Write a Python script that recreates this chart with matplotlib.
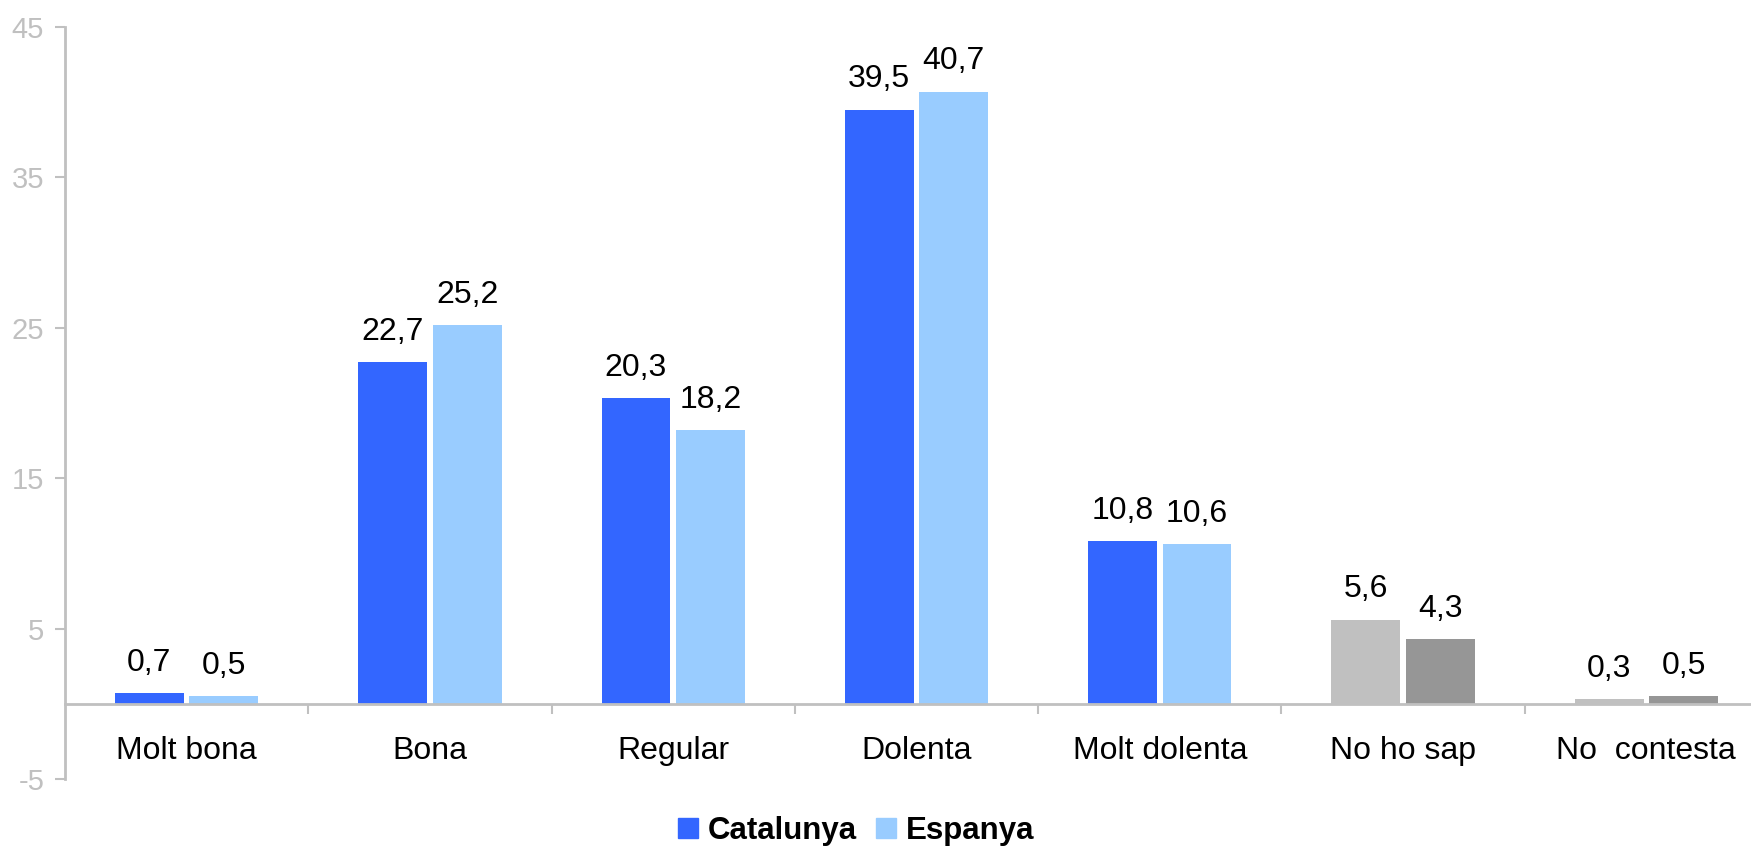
import numpy as np
import matplotlib.pyplot as plt
from matplotlib.patches import Patch

# Data
categories = ["Molt bona", "Bona", "Regular", "Dolenta", "Molt dolenta", "No ho sap", "No  contesta"]
catalunya = [0.7, 22.7, 20.3, 39.5, 10.8, 5.6, 0.3]
espanya = [0.5, 25.2, 18.2, 40.7, 10.6, 4.3, 0.5]
series_names = ["Catalunya", "Espanya"]
y_ticks = [-5, 5, 15, 25, 35, 45]

blue_dark = "#3366FF"
blue_light = "#99CCFF"
grey_light = "#C0C0C0"
grey_dark = "#969696"
axis_color = "#C0C0C0"

plt.rcParams["font.family"] = ["Liberation Sans", "DejaVu Sans"]
plt.rcParams["axes.unicode_minus"] = False

fig = plt.figure(figsize=(17.51, 8.5), dpi=100)
ax = fig.add_axes([65 / 1751, 1 - 779 / 850, (1768 - 65) / 1751, (779 - 27) / 850])

x = np.arange(len(categories))
width = 0.283
offset = 0.153

# last two categories are drawn in grey
c1 = [blue_dark] * 5 + [grey_light] * 2
c2 = [blue_light] * 5 + [grey_dark] * 2

b1 = ax.bar(x - offset, catalunya, width, color=c1)
b2 = ax.bar(x + offset, espanya, width, color=c2)

def fmt(v):
    return f"{v:.1f}".replace(".", ",")

for bars, vals in [(b1, catalunya), (b2, espanya)]:
    for rect, v in zip(bars, vals):
        ax.annotate(fmt(v), (rect.get_x() + rect.get_width() / 2, rect.get_height()),
                    xytext=(0, 11), textcoords="offset points",
                    ha="center", va="bottom", fontsize=23, color="black")

ax.set_xlim(-0.5, len(categories) - 0.5)
ax.set_ylim(-5, 45)
ax.set_yticks(y_ticks)
ax.tick_params(axis="y", colors=axis_color, labelsize=21, length=7, width=1.5, pad=8)

ax.set_xticks(x)
ax.set_xticklabels(categories)
ax.tick_params(axis="x", which="major", length=0, pad=23, labelsize=23, labelcolor="black")
ax.set_xticks(np.arange(0.5, len(categories) - 0.5), minor=True)
ax.tick_params(axis="x", which="minor", length=7, width=1.5, color=axis_color, direction="out")

for s in ["top", "right"]:
    ax.spines[s].set_visible(False)
ax.spines["bottom"].set_position(("data", 0))
for s in ["left", "bottom"]:
    ax.spines[s].set_color(axis_color)
    ax.spines[s].set_linewidth(2)

handles = [Patch(color=blue_dark, label=series_names[0]),
           Patch(color=blue_light, label=series_names[1])]
fig.legend(handles=handles, loc="center", bbox_to_anchor=(856 / 1751, 1 - 831 / 850),
           ncol=2, frameon=False, prop={"weight": "bold", "size": 22.5},
           handlelength=0.65, handleheight=0.65, handletextpad=0.3, columnspacing=0.6)

fig.savefig("out.png", dpi=100)
